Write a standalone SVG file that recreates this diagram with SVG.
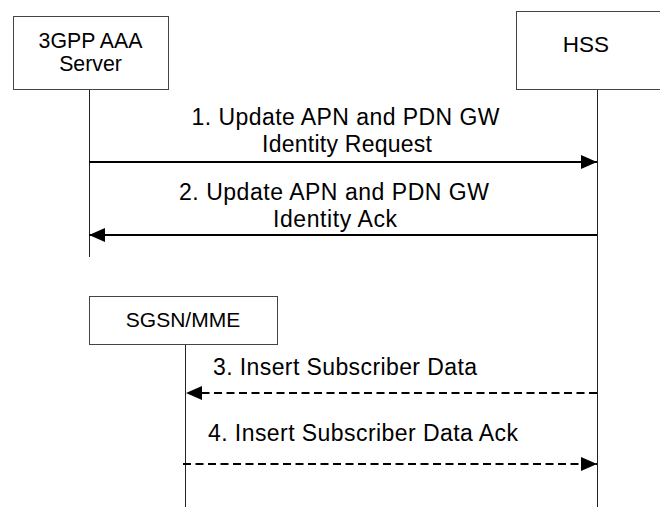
<svg xmlns="http://www.w3.org/2000/svg" width="660" height="507" viewBox="0 0 660 507">
<style>
.box{fill:#fff;stroke:#444;stroke-width:1}
.life{stroke:#222;stroke-width:1;fill:none}
.msg{stroke:#000;stroke-width:2.2;fill:none}
.dash{stroke-dasharray:8,4.5}
text{font-family:"Liberation Sans",Arial,sans-serif;fill:#000;text-anchor:middle}
.lbl{font-size:21.3px}
.m{font-size:23px}
</style>
<defs>
<marker id="ah" markerUnits="userSpaceOnUse" markerWidth="16" markerHeight="14" refX="16" refY="7" orient="auto">
<path d="M0,0 L16,7 L0,14 Z" fill="#000"/>
</marker>
</defs>
<g id="aaa">
<rect class="box" x="13.5" y="16.5" width="155" height="73"/>
<text class="lbl" x="90.5" y="48">3GPP AAA</text>
<text class="lbl" x="90.5" y="71">Server</text>
</g>
<g id="hss">
<rect class="box" x="516.5" y="11.5" width="145" height="78"/>
<text class="lbl" x="586" y="52" style="font-size:22.5px">HSS</text>
</g>
<g id="sgsn">
<rect class="box" x="89.5" y="296.5" width="188" height="48"/>
<text class="lbl" x="183" y="327" style="font-size:21px">SGSN/MME</text>
</g>
<g id="connectors">
<line class="life" x1="89.5" y1="90" x2="89.5" y2="257"/>
<line class="life" x1="597.5" y1="90" x2="597.5" y2="507"/>
<line class="life" x1="185.5" y1="345" x2="185.5" y2="507"/>
<line class="msg" x1="89" y1="162" x2="597" y2="162" marker-end="url(#ah)"/>
<line class="msg" x1="597" y1="235" x2="89" y2="235" marker-end="url(#ah)"/>
<line class="msg dash" x1="597" y1="393" x2="186" y2="393" marker-end="url(#ah)"/>
<line class="msg dash" x1="183" y1="464" x2="597" y2="464" marker-end="url(#ah)"/>
<text class="m" x="345.5" y="125" textLength="308">1. Update APN and PDN GW</text>
<text class="m" x="347" y="152" textLength="170">Identity Request</text>
<text class="m" x="334" y="200" textLength="310">2. Update APN and PDN GW</text>
<text class="m" x="335" y="227" textLength="124">Identity Ack</text>
<text class="m" x="345" y="375" textLength="264">3. Insert Subscriber Data</text>
<text class="m" x="363" y="441" textLength="310">4. Insert Subscriber Data Ack</text>
</g>
</svg>
